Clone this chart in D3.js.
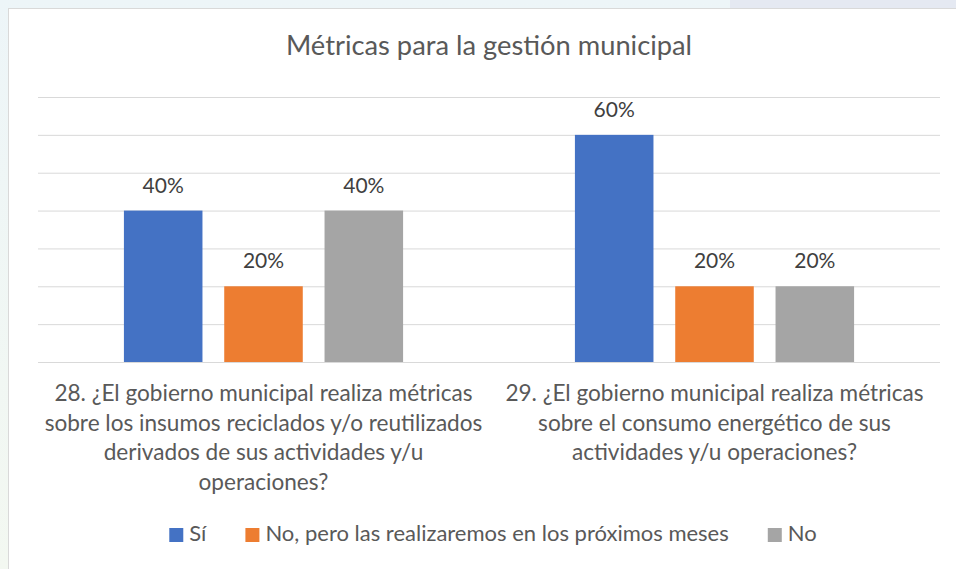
<!DOCTYPE html>
<html lang="es">
<head>
<meta charset="UTF-8">
<title>Métricas para la gestión municipal</title>
<style>
html, body { margin: 0; padding: 0; background: #eef5f7; }
svg { display: block; font-family: Lato, "Open Sans", sans-serif; }
.grid line { stroke: #d9d9d9; stroke-width: 1; }
.grid path { display: none; }
</style>
<script src="https://cdn.jsdelivr.net/npm/d3@7/dist/d3.min.js"></script>
</head>
<body>
<div id="chart"></div>
<script>
// data
var title = "Métricas para la gestión municipal";
var categories = [
  "28. ¿El gobierno municipal realiza métricas\nsobre los insumos reciclados y/o reutilizados\nderivados de sus actividades y/u\noperaciones?",
  "29. ¿El gobierno municipal realiza métricas\nsobre el consumo energético de sus\nactividades y/u operaciones?"
];
var seriesNames = ["Sí", "No, pero las realizaremos en los próximos meses", "No"];
var seriesColors = ["#4472c4", "#ed7d31", "#a5a5a5"];
var valuesSi = [0.4, 0.6];
var valuesProx = [0.2, 0.2];
var valuesNo = [0.4, 0.2];
var yTicks = [0, 0.1, 0.2, 0.3, 0.4, 0.5, 0.6, 0.7];

var W = 956, H = 569;
var plot = {left: 38, right: 940, top: 97, bottom: 362};

var svg = d3.select("#chart").append("svg")
    .attr("width", W)
    .attr("height", H);

// page background and chart box
var defs = svg.append("defs");
var grad = defs.append("linearGradient").attr("id", "bg").attr("x1", 0).attr("y1", 0).attr("x2", 0).attr("y2", 1);
grad.append("stop").attr("offset", "0%").attr("stop-color", "#edf5f8");
grad.append("stop").attr("offset", "100%").attr("stop-color", "#f3f8f1");
svg.append("rect").attr("width", W).attr("height", H).attr("fill", "url(#bg)");
svg.append("rect").attr("x", 730).attr("y", 0).attr("width", W - 730).attr("height", 9).attr("fill", "#e5e9f2");
svg.append("rect")
    .attr("x", 8.5).attr("y", 8.5)
    .attr("width", W + 10).attr("height", H + 10)
    .attr("fill", "#fff")
    .attr("stroke", "#d9d9d9");

// scales
var y = d3.scaleLinear().domain([0, 0.7]).range([plot.bottom, plot.top]);
var x0 = d3.scaleBand().domain(categories).range([plot.left, plot.right])
    .paddingInner(0.381).paddingOuter(0.1905);
var x1 = d3.scaleBand().domain(seriesNames).range([0, x0.bandwidth()]).paddingInner(0.217);

// gridlines
svg.append("g")
    .attr("class", "grid")
    .attr("transform", "translate(" + plot.left + ",0)")
    .call(d3.axisLeft(y).tickValues(yTicks).tickSize(-(plot.right - plot.left)).tickFormat(""));

// bars
var rows = categories.map(function(c, i) {
  return {cat: c, vals: [valuesSi[i], valuesProx[i], valuesNo[i]]};
});

var group = svg.append("g").selectAll("g")
    .data(rows)
    .enter().append("g")
    .attr("transform", function(d) { return "translate(" + x0(d.cat) + ",0)"; });

group.selectAll("rect")
    .data(function(d) { return d.vals.map(function(v, j) { return {name: seriesNames[j], v: v, color: seriesColors[j]}; }); })
    .enter().append("rect")
    .attr("x", function(d) { return x1(d.name); })
    .attr("y", function(d) { return y(d.v); })
    .attr("width", x1.bandwidth())
    .attr("height", function(d) { return y(0) - y(d.v); })
    .attr("fill", function(d) { return d.color; });

group.selectAll("text")
    .data(function(d) { return d.vals.map(function(v, j) { return {name: seriesNames[j], v: v}; }); })
    .enter().append("text")
    .attr("x", function(d) { return x1(d.name) + x1.bandwidth() / 2; })
    .attr("y", function(d) { return y(d.v) - 18; })
    .attr("text-anchor", "middle")
    .style("font-size", "21px")
    .style("fill", "#404040")
    .text(function(d) { return d3.format(".0%")(d.v); });

// category labels
var catLabel = svg.append("g").selectAll("text")
    .data(categories)
    .enter().append("text")
    .attr("text-anchor", "middle")
    .style("font-size", "22.6px")
    .style("fill", "#595959");

catLabel.each(function(c) {
  var t = d3.select(this);
  c.split("\n").forEach(function(line, k) {
    t.append("tspan")
        .attr("x", x0(c) + x0.bandwidth() / 2)
        .attr("y", 401 + k * 29.7)
        .text(line);
  });
});

// title
svg.append("text")
    .attr("x", 489)
    .attr("y", 55)
    .attr("text-anchor", "middle")
    .style("font-size", "27.3px")
    .style("fill", "#595959")
    .text(title);

// legend
var legend = svg.append("g");
var items = legend.selectAll("g")
    .data(seriesNames)
    .enter().append("g");

items.append("rect")
    .attr("width", 14).attr("height", 14)
    .attr("y", 528)
    .attr("fill", function(d, i) { return seriesColors[i]; });

items.append("text")
    .attr("x", 20)
    .attr("y", 541)
    .style("font-size", "22px")
    .style("fill", "#595959")
    .text(function(d) { return d; });

var offset = 0;
items.each(function() {
  var g = d3.select(this);
  g.attr("transform", "translate(" + offset + ",0)");
  offset += 20 + g.select("text").node().getComputedTextLength() + 39;
});
var legendWidth = offset - 39;
legend.attr("transform", "translate(" + (493 - legendWidth / 2) + ",0)");
</script>
</body>
</html>
